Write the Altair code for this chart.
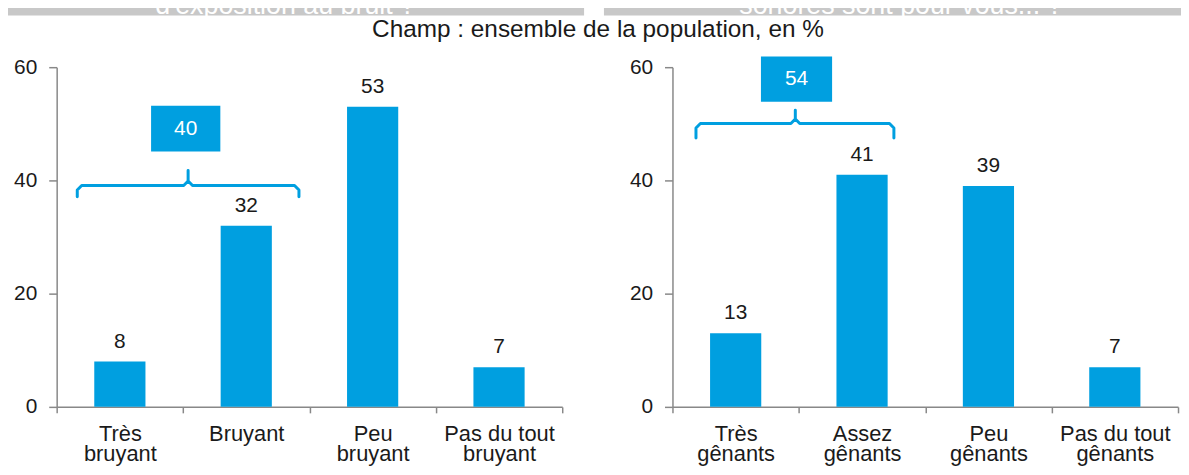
import altair as alt
import pandas as pd

# ---------------- data ----------------
cats_left = ["Très|bruyant", "Bruyant", "Peu|bruyant", "Pas du tout|bruyant"]
vals_left = [8, 32, 53, 7]
cats_right = ["Très|gênants", "Assez|gênants", "Peu|gênants", "Pas du tout|gênants"]
vals_right = [13, 41, 39, 7]
y_ticks = [0, 20, 40, 60]

# brace annotations, x in category units (0 = left edge of panel, 4 = right edge)
brace_left = {"start": 0.163, "mid": 1.04, "end": 1.917, "level": 39.1, "foot": 37.1, "peak": 41.75}
brace_right = {"start": 0.186, "mid": 0.972, "end": 1.752, "level": 50.05, "foot": 47.5, "peak": 52.4}
box_left = {"x0": 0.747, "x1": 1.295, "y0": 45.1, "y1": 53.2, "label": "40"}
box_right = {"x0": 0.70, "x1": 1.263, "y0": 53.9, "y1": 61.9, "label": "54"}

banner_texts = ["d'exposition au bruit ?", "sonores sont pour vous... ?"]
subtitle_text = "Champ : ensemble de la population, en %"

# ---------------- style ----------------
BLUE = "#009fe0"
GREY = "#888888"
TXT = "#1a1a1a"
FONT = "Liberation Sans"
FS = 21
PW = 509          # panel plot width
RIGHT_OFF = 620   # x offset of right panel
H = 342


def brace_points(b, r=0.035, dv=0.8):
    s, m, e = b["start"], b["mid"], b["end"]
    L, f, p = b["level"], b["foot"], b["peak"]
    xs = [s, s, s + r, m - r, m, m, m, m + r, e - r, e, e]
    ys = [f, L - dv, L, L, L + dv, p, L + dv, L, L, L - dv, f]
    return pd.DataFrame({"bx": xs, "by": ys, "i": list(range(len(xs)))})


def make_panel(cats, vals, brace, box, off):
    df = pd.DataFrame({"cat": cats, "val": vals})
    xscale = alt.Scale(domain=cats, range=[off, off + PW],
                       paddingInner=0, paddingOuter=0)
    yscale = alt.Scale(domain=[0, 60], nice=False, zero=True)
    xaxis = alt.Axis(orient="bottom", title=None, labelAngle=0,
                     labelExpr="split(datum.label, '|')", tickBand="extent",
                     tickSize=6, labelPadding=11, labelLineHeight=20,
                     labelBaseline="top", labelFontSize=22)
    yaxis = alt.Axis(orient="left", offset=-off, values=y_ticks, title=None,
                     grid=False, tickSize=8, labelPadding=12)
    X = alt.X("cat:N", scale=xscale, axis=xaxis, sort=None)
    Y = alt.Y("val:Q", scale=yscale, axis=yaxis)
    base = alt.Chart(df)
    bars = base.mark_bar(color=BLUE, width=alt.RelativeBandSize(0.405)).encode(x=X, y=Y)
    labels = base.mark_text(font=FONT, fontSize=FS, color=TXT, baseline="alphabetic",
                            dy=-14).encode(x=X, y=Y, text="val:Q")
    main = alt.layer(bars, labels)

    qscale = alt.Scale(domain=[0, 4], range=[off, off + PW], nice=False, zero=False)
    bd = brace_points(brace)
    line = alt.Chart(bd).mark_line(color=BLUE, strokeWidth=3, strokeCap="round",
                                   strokeJoin="round").encode(
        x=alt.X("bx:Q", scale=qscale, axis=None),
        y=alt.Y("by:Q", scale=yscale, axis=yaxis),
        order="i:Q")
    boxdf = pd.DataFrame([{"x0": box["x0"], "x1": box["x1"], "y0": box["y0"],
                           "y1": box["y1"], "label": box["label"],
                           "xc": (box["x0"] + box["x1"]) / 2,
                           "yc": (box["y0"] + box["y1"]) / 2}])
    rect = alt.Chart(boxdf).mark_rect(color=BLUE).encode(
        x=alt.X("x0:Q", scale=qscale, axis=None), x2="x1:Q",
        y=alt.Y("y0:Q", scale=yscale, axis=yaxis), y2="y1:Q")
    btxt = alt.Chart(boxdf).mark_text(font=FONT, fontSize=FS, color="white",
                                      baseline="middle").encode(
        x=alt.X("xc:Q", scale=qscale, axis=None),
        y=alt.Y("yc:Q", scale=yscale, axis=yaxis),
        text="label:N")
    ann = alt.layer(line, rect, btxt)
    return alt.layer(main, ann).resolve_scale(x="independent")


left = make_panel(cats_left, vals_left, brace_left, box_left, 0)
right = make_panel(cats_right, vals_right, brace_right, box_right, RIGHT_OFF)

# decorations: grey banners (cut at top) and subtitle
one = pd.DataFrame([{"t": subtitle_text}])
ban1 = alt.Chart(one).mark_rect(color="#c8c8c8").encode(
    x=alt.value(-57), x2=alt.value(531), y=alt.value(-70), y2=alt.value(-52))
ban2 = alt.Chart(one).mark_rect(color="#c8c8c8").encode(
    x=alt.value(551), x2=alt.value(1140), y=alt.value(-70), y2=alt.value(-52))
bt = pd.DataFrame([{"t": banner_texts[0]}])
bt2 = pd.DataFrame([{"t": banner_texts[1]}])
btext1 = alt.Chart(bt).mark_text(font=FONT, fontSize=27, color="white",
                                 baseline="alphabetic").encode(
    x=alt.value(230), y=alt.value(-54), text="t:N")
btext2 = alt.Chart(bt2).mark_text(font=FONT, fontSize=27, color="white",
                                  baseline="alphabetic").encode(
    x=alt.value(850), y=alt.value(-54), text="t:N")
sub = alt.Chart(one).mark_text(font="Liberation Sans", fontSize=24.5, color=TXT,
                               baseline="alphabetic").encode(
    x=alt.value(545), y=alt.value(-30), text="t:N")
decor = alt.layer(ban1, ban2, btext1, btext2, sub)

chart = alt.layer(decor, left, right).resolve_scale(
    x="independent", y="independent"
).properties(
    width=1129, height=H,
    autosize=alt.AutoSizeParams(type="none"),
    padding={"left": 49, "top": 58, "right": 3, "bottom": 67},
).configure_view(stroke=None).configure_axis(
    labelFont=FONT, labelFontSize=FS, labelColor=TXT,
    domainColor=GREY, tickColor=GREY, domainWidth=1.5, tickWidth=1.5,
)

chart.save("out.html", embed_options={"renderer": "svg", "actions": False})
